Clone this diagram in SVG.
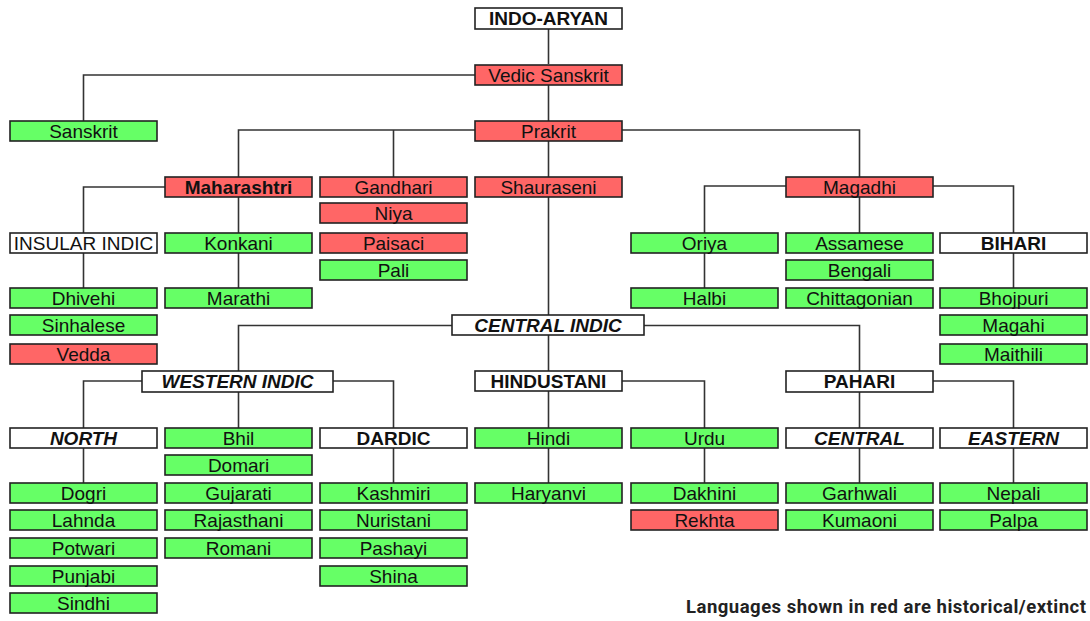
<svg xmlns="http://www.w3.org/2000/svg" width="1090" height="621" viewBox="0 0 1090 621">
<style>
rect{stroke:#222;stroke-width:1.6}
.w{fill:#ffffff}
.g{fill:#66ff66}
.r{fill:#ff6666}
text{font-family:"Liberation Sans",Arial,sans-serif;font-size:19px;fill:#111;text-anchor:middle}
.b{font-weight:bold}
.bi{font-weight:bold;font-style:italic}
#connectors path{fill:none;stroke:#333;stroke-width:1.6}
.legend{font-family:Roboto,"Liberation Sans",sans-serif;font-size:18.5px;font-weight:bold;fill:#222;text-anchor:start}
</style>
<g id="connectors">
<path d="M548.5,29 V64"/>
<path d="M475,75 H83.5 V121"/>
<path d="M548.5,85 V121"/>
<path d="M475,130 H238.5 V177"/>
<path d="M393.5,130 V177"/>
<path d="M548.5,141 V177"/>
<path d="M622,130 H859.5 V177"/>
<path d="M165,187 H83.5 V233"/>
<path d="M238.5,197 V233"/>
<path d="M238.5,253 V288"/>
<path d="M83.5,253 V288"/>
<path d="M786,186 H704.5 V233"/>
<path d="M704.5,253 V288"/>
<path d="M859.5,197 V233"/>
<path d="M933,186 H1013.5 V233"/>
<path d="M1013.5,253 V288"/>
<path d="M548.5,197 V315"/>
<path d="M452,325.5 H238.5 V371"/>
<path d="M644,325.5 H859.5 V371"/>
<path d="M548.5,335 V371"/>
<path d="M142,381 H83.5 V428"/>
<path d="M238.5,392 V428"/>
<path d="M333,381 H393.5 V428"/>
<path d="M548.5,391 V428"/>
<path d="M622,381 H704.5 V428"/>
<path d="M859.5,391 V428"/>
<path d="M933,381 H1013.5 V428"/>
<path d="M83.5,448 V483"/>
<path d="M393.5,448 V483"/>
<path d="M548.5,448 V483"/>
<path d="M704.5,448 V483"/>
<path d="M859.5,448 V483"/>
<path d="M1013.5,448 V483"/>
</g>
<g id="indo-aryan"><rect class="w" x="475" y="8" width="147" height="21"/><text class="b" x="548.5" y="25">INDO-ARYAN</text></g>
<g id="vedic-sanskrit"><rect class="r" x="475" y="65" width="147" height="20"/><text x="548.5" y="81.5">Vedic Sanskrit</text></g>
<g id="sanskrit"><rect class="g" x="10" y="121" width="147" height="20"/><text x="83.5" y="137.5">Sanskrit</text></g>
<g id="prakrit"><rect class="r" x="475" y="121" width="147" height="20"/><text x="548.5" y="137.5">Prakrit</text></g>
<g id="maharashtri"><rect class="r" x="165" y="177" width="147" height="20"/><text class="b" x="238.5" y="193.5">Maharashtri</text></g>
<g id="gandhari"><rect class="r" x="320" y="177" width="147" height="20"/><text x="393.5" y="193.5">Gandhari</text></g>
<g id="shauraseni"><rect class="r" x="475" y="177" width="147" height="20"/><text x="548.5" y="193.5">Shauraseni</text></g>
<g id="magadhi"><rect class="r" x="786" y="177" width="147" height="20"/><text x="859.5" y="193.5">Magadhi</text></g>
<g id="niya"><rect class="r" x="320" y="203" width="147" height="20"/><text x="393.5" y="219.5">Niya</text></g>
<g id="insular-indic"><rect class="w" x="10" y="233" width="147" height="20"/><text x="83.5" y="249.5">INSULAR INDIC</text></g>
<g id="konkani"><rect class="g" x="165" y="233" width="147" height="20"/><text x="238.5" y="249.5">Konkani</text></g>
<g id="paisaci"><rect class="r" x="320" y="233" width="147" height="20"/><text x="393.5" y="249.5">Paisaci</text></g>
<g id="oriya"><rect class="g" x="631" y="233" width="147" height="20"/><text x="704.5" y="249.5">Oriya</text></g>
<g id="assamese"><rect class="g" x="786" y="233" width="147" height="20"/><text x="859.5" y="249.5">Assamese</text></g>
<g id="bihari"><rect class="w" x="940" y="233" width="147" height="20"/><text class="b" x="1013.5" y="249.5">BIHARI</text></g>
<g id="pali"><rect class="g" x="320" y="260" width="147" height="20"/><text x="393.5" y="276.5">Pali</text></g>
<g id="bengali"><rect class="g" x="786" y="260" width="147" height="20"/><text x="859.5" y="276.5">Bengali</text></g>
<g id="dhivehi"><rect class="g" x="10" y="288" width="147" height="20"/><text x="83.5" y="304.5">Dhivehi</text></g>
<g id="marathi"><rect class="g" x="165" y="288" width="147" height="20"/><text x="238.5" y="304.5">Marathi</text></g>
<g id="halbi"><rect class="g" x="631" y="288" width="147" height="20"/><text x="704.5" y="304.5">Halbi</text></g>
<g id="chittagonian"><rect class="g" x="786" y="288" width="147" height="20"/><text x="859.5" y="304.5">Chittagonian</text></g>
<g id="bhojpuri"><rect class="g" x="940" y="288" width="147" height="20"/><text x="1013.5" y="304.5">Bhojpuri</text></g>
<g id="sinhalese"><rect class="g" x="10" y="315" width="147" height="20"/><text x="83.5" y="331.5">Sinhalese</text></g>
<g id="central-indic"><rect class="w" x="452" y="315" width="192" height="20"/><text class="bi" x="548" y="331.5">CENTRAL INDIC</text></g>
<g id="magahi"><rect class="g" x="940" y="315" width="147" height="20"/><text x="1013.5" y="331.5">Magahi</text></g>
<g id="vedda"><rect class="r" x="10" y="344" width="147" height="20"/><text x="83.5" y="360.5">Vedda</text></g>
<g id="maithili"><rect class="g" x="940" y="344" width="147" height="20"/><text x="1013.5" y="360.5">Maithili</text></g>
<g id="western-indic"><rect class="w" x="142" y="371" width="191" height="21"/><text class="bi" x="237.5" y="388">WESTERN INDIC</text></g>
<g id="hindustani"><rect class="w" x="475" y="371" width="147" height="20"/><text class="b" x="548.5" y="387.5">HINDUSTANI</text></g>
<g id="pahari"><rect class="w" x="786" y="371" width="147" height="21"/><text class="b" x="859.5" y="388">PAHARI</text></g>
<g id="north"><rect class="w" x="10" y="428" width="147" height="20"/><text class="bi" x="83.5" y="444.5">NORTH</text></g>
<g id="bhil"><rect class="g" x="165" y="428" width="147" height="20"/><text x="238.5" y="444.5">Bhil</text></g>
<g id="dardic"><rect class="w" x="320" y="428" width="147" height="20"/><text class="b" x="393.5" y="444.5">DARDIC</text></g>
<g id="hindi"><rect class="g" x="475" y="428" width="147" height="20"/><text x="548.5" y="444.5">Hindi</text></g>
<g id="urdu"><rect class="g" x="631" y="428" width="147" height="20"/><text x="704.5" y="444.5">Urdu</text></g>
<g id="central"><rect class="w" x="786" y="428" width="147" height="20"/><text class="bi" x="859.5" y="444.5">CENTRAL</text></g>
<g id="eastern"><rect class="w" x="940" y="428" width="147" height="20"/><text class="bi" x="1013.5" y="444.5">EASTERN</text></g>
<g id="domari"><rect class="g" x="165" y="455" width="147" height="20"/><text x="238.5" y="471.5">Domari</text></g>
<g id="dogri"><rect class="g" x="10" y="483" width="147" height="20"/><text x="83.5" y="499.5">Dogri</text></g>
<g id="gujarati"><rect class="g" x="165" y="483" width="147" height="20"/><text x="238.5" y="499.5">Gujarati</text></g>
<g id="kashmiri"><rect class="g" x="320" y="483" width="147" height="20"/><text x="393.5" y="499.5">Kashmiri</text></g>
<g id="haryanvi"><rect class="g" x="475" y="483" width="147" height="20"/><text x="548.5" y="499.5">Haryanvi</text></g>
<g id="dakhini"><rect class="g" x="631" y="483" width="147" height="20"/><text x="704.5" y="499.5">Dakhini</text></g>
<g id="garhwali"><rect class="g" x="786" y="483" width="147" height="20"/><text x="859.5" y="499.5">Garhwali</text></g>
<g id="nepali"><rect class="g" x="940" y="483" width="147" height="20"/><text x="1013.5" y="499.5">Nepali</text></g>
<g id="lahnda"><rect class="g" x="10" y="510" width="147" height="20"/><text x="83.5" y="526.5">Lahnda</text></g>
<g id="rajasthani"><rect class="g" x="165" y="510" width="147" height="20"/><text x="238.5" y="526.5">Rajasthani</text></g>
<g id="nuristani"><rect class="g" x="320" y="510" width="147" height="20"/><text x="393.5" y="526.5">Nuristani</text></g>
<g id="rekhta"><rect class="r" x="631" y="510" width="147" height="20"/><text x="704.5" y="526.5">Rekhta</text></g>
<g id="kumaoni"><rect class="g" x="786" y="510" width="147" height="20"/><text x="859.5" y="526.5">Kumaoni</text></g>
<g id="palpa"><rect class="g" x="940" y="510" width="147" height="20"/><text x="1013.5" y="526.5">Palpa</text></g>
<g id="potwari"><rect class="g" x="10" y="538" width="147" height="20"/><text x="83.5" y="554.5">Potwari</text></g>
<g id="romani"><rect class="g" x="165" y="538" width="147" height="20"/><text x="238.5" y="554.5">Romani</text></g>
<g id="pashayi"><rect class="g" x="320" y="538" width="147" height="20"/><text x="393.5" y="554.5">Pashayi</text></g>
<g id="punjabi"><rect class="g" x="10" y="566" width="147" height="20"/><text x="83.5" y="582.5">Punjabi</text></g>
<g id="shina"><rect class="g" x="320" y="566" width="147" height="20"/><text x="393.5" y="582.5">Shina</text></g>
<g id="sindhi"><rect class="g" x="10" y="593" width="147" height="20"/><text x="83.5" y="609.5">Sindhi</text></g>
<g id="legend"><text class="legend" x="686" y="613" textLength="400" lengthAdjust="spacing">Languages shown in red are historical/extinct</text></g>
</svg>
